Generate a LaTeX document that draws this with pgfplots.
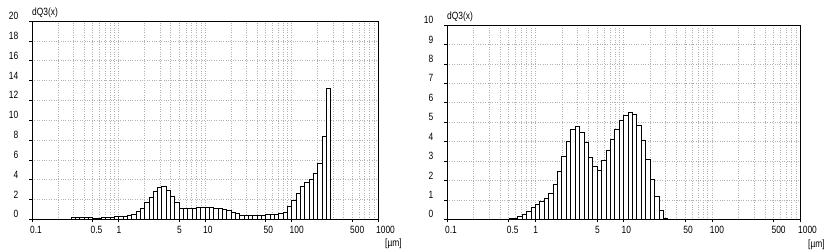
\documentclass[border=0pt]{standalone}
\usepackage{fontspec}
\setmainfont{Liberation Sans}
\newfontfamily\chartfont[FakeStretch=0.8]{Liberation Sans}
\usepackage{pgfplots}
\pgfplotsset{compat=1.18}
\begin{document}
\begin{tikzpicture}
\useasboundingbox (0,0) rectangle (828bp,252bp);
\begin{axis}[
    scale only axis, anchor=south west, at={(32bp,32.7bp)}, width=346bp, height=198.3bp,
    xmode=log, log basis x=10,
    xmin=0.1, xmax=1000, ymin=0, ymax=20, ytick={0,2,...,20}, clip=false,
    xtick={0.1,0.5,1,5,10,50,100,500,1000},
    xticklabels={0.1,0.5,1,5,10,50,100,500,1000},
    minor xtick={0.2,0.3,0.4,0.6,0.7,0.8,0.9,2,3,4,6,7,8,9,20,30,40,60,70,80,90,200,300,400,600,700,800,900},
    xtick pos=bottom, ytick pos=left,
    tick align=outside, major tick length=3bp, minor tick length=0pt,
    xmajorgrids, xminorgrids, ymajorgrids,
    major grid style={dotted, gray!60, line width=0.5pt},
    minor grid style={dotted, gray!60, line width=0.5pt},
    axis line style={black, line width=0.7pt},
    tick style={black, line width=0.5pt},
    tick label style={font=\fontsize{10.5bp}{12bp}\chartfont, inner sep=0pt},
    xticklabel style={anchor=north west, xshift=-2bp, yshift=-4bp},
    yticklabel style={anchor=east, xshift=-10.5bp, yshift=5bp},
    enlargelimits=false,
    /pgf/number format/assume math mode=true,
  ]
\addplot[ybar interval, fill=white, draw=black, line width=0.55pt] table[row sep=\\] {
x y\\
0.2818 0.22\\ 0.3162 0.22\\ 0.3548 0.22\\ 0.3981 0.22\\ 0.4467 0.22\\
0.5012 0.07\\ 0.5623 0.07\\ 0.6310 0.2\\ 0.7079 0.2\\ 0.7943 0.2\\
0.8913 0.27\\ 1 0.27\\ 1.122 0.27\\ 1.259 0.4\\ 1.413 0.54\\
1.585 0.77\\ 1.778 1.1\\ 1.995 1.68\\ 2.239 2.2\\ 2.512 2.8\\
2.818 3.25\\ 3.162 3.37\\ 3.548 2.9\\ 3.981 2.3\\ 4.467 1.75\\
5.012 1.1\\ 5.623 1.08\\ 6.310 1.1\\ 7.079 1.15\\ 7.943 1.18\\
8.913 1.2\\ 10 1.2\\ 11.22 1.18\\ 12.59 1.15\\ 14.13 1.1\\
15.85 1.0\\ 17.78 0.88\\ 19.95 0.72\\ 22.39 0.58\\ 25.12 0.45\\
28.18 0.38\\ 31.62 0.36\\ 35.48 0.36\\ 39.81 0.38\\ 44.67 0.45\\
50.12 0.47\\ 56.23 0.48\\ 63.10 0.5\\ 70.79 0.6\\ 79.43 0.72\\
89.13 1.27\\ 100 1.95\\ 112.2 2.6\\ 125.9 3.36\\ 141.3 3.7\\
158.5 4.04\\ 177.8 4.65\\ 199.5 5.7\\ 223.9 8.4\\ 251.2 13.2\\
281.8 13.2\\
};
\node[anchor=base west, inner sep=0pt, font=\fontsize{10.5bp}{12bp}\chartfont] at (rel axis cs:0,1) [yshift=5bp] {dQ3(x)};
\node[anchor=north west, inner sep=0pt, font=\fontsize{10.5bp}{12bp}\chartfont] at (rel axis cs:1,0) [xshift=7bp, yshift=-19bp] {[µm]};
\end{axis}
\begin{axis}[
    scale only axis, anchor=south west, at={(447bp,32.7bp)}, width=353bp, height=194.3bp,
    xmode=log, log basis x=10,
    xmin=0.1, xmax=1000, ymin=0, ymax=10, ytick={0,1,...,10}, clip=false,
    xtick={0.1,0.5,1,5,10,50,100,500,1000},
    xticklabels={0.1,0.5,1,5,10,50,100,500,1000},
    minor xtick={0.2,0.3,0.4,0.6,0.7,0.8,0.9,2,3,4,6,7,8,9,20,30,40,60,70,80,90,200,300,400,600,700,800,900},
    xtick pos=bottom, ytick pos=left,
    tick align=outside, major tick length=3bp, minor tick length=0pt,
    xmajorgrids, xminorgrids, ymajorgrids,
    major grid style={dotted, gray!60, line width=0.5pt},
    minor grid style={dotted, gray!60, line width=0.5pt},
    axis line style={black, line width=0.7pt},
    tick style={black, line width=0.5pt},
    tick label style={font=\fontsize{10.5bp}{12bp}\chartfont, inner sep=0pt},
    xticklabel style={anchor=north west, xshift=-2bp, yshift=-4bp},
    yticklabel style={anchor=east, xshift=-10.5bp, yshift=5bp},
    enlargelimits=false,
    /pgf/number format/assume math mode=true,
  ]
\addplot[ybar interval, fill=white, draw=black, line width=0.55pt] table[row sep=\\] {
x y\\
0.5012 0.03\\ 0.5623 0.07\\ 0.6310 0.14\\ 0.7079 0.26\\ 0.7943 0.43\\
0.8913 0.63\\ 1 0.77\\ 1.122 0.93\\ 1.259 1.1\\ 1.413 1.32\\
1.585 1.78\\ 1.778 2.49\\ 1.995 3.26\\ 2.239 4.03\\ 2.512 4.63\\
2.818 4.8\\ 3.162 4.46\\ 3.548 3.95\\ 3.981 3.17\\ 4.467 2.71\\
5.012 2.54\\ 5.623 3.05\\ 6.310 3.57\\ 7.079 4.12\\ 7.943 4.63\\
8.913 5.11\\ 10 5.37\\ 11.22 5.49\\ 12.59 5.42\\ 14.13 4.85\\
15.85 4.05\\ 17.78 3.09\\ 19.95 2.06\\ 22.39 1.17\\ 25.12 0.48\\
28.18 0.05\\ 31.62 0.05\\
};
\node[anchor=base west, inner sep=0pt, font=\fontsize{10.5bp}{12bp}\chartfont] at (rel axis cs:0,1) [yshift=5bp] {dQ3(x)};
\node[anchor=north west, inner sep=0pt, font=\fontsize{10.5bp}{12bp}\chartfont] at (rel axis cs:1,0) [xshift=8bp, yshift=-20bp] {[µm]};
\end{axis}
\end{tikzpicture}
\end{document}
